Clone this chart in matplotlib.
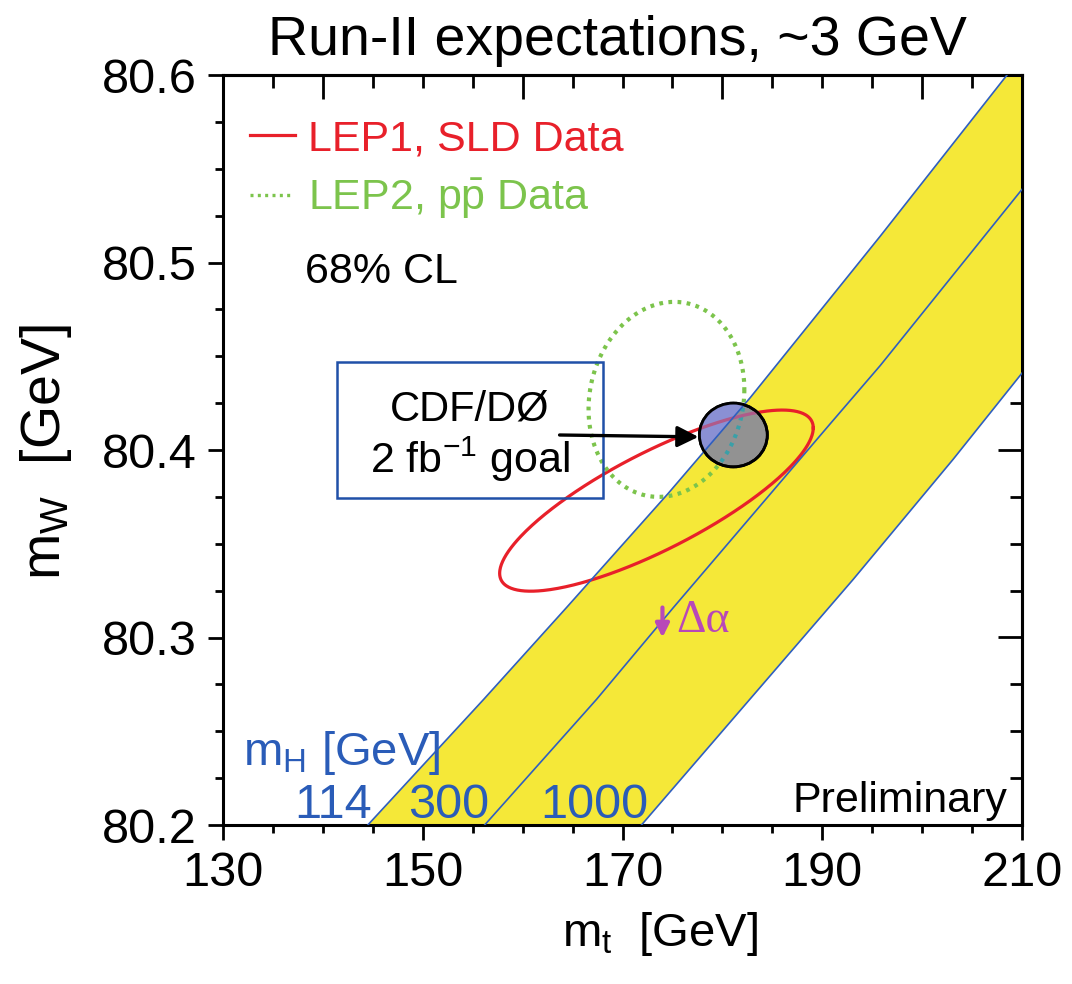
import matplotlib
matplotlib.use("Agg")
import matplotlib.pyplot as plt
import numpy as np
from matplotlib.patches import Ellipse, Rectangle
from matplotlib.ticker import MultipleLocator

plt.rcParams['font.family'] = ['Liberation Sans', 'DejaVu Sans']
plt.rcParams['mathtext.fontset'] = 'custom'
plt.rcParams['mathtext.rm'] = 'Liberation Sans'
plt.rcParams['mathtext.it'] = 'Liberation Sans:italic'
plt.rcParams['mathtext.bf'] = 'Liberation Sans:bold'

# m_H lines (m_t, m_W)
mh114_mt = [144.5, 156.1, 164.4, 174.6, 182.8, 195.8, 208.5]
mh114_mw = [80.200, 80.267, 80.316, 80.377, 80.428, 80.514, 80.600]
mh300_mt = [156.2, 167.4, 175.1, 190.8, 195.8, 210.0]
mh300_mw = [80.200, 80.267, 80.316, 80.414, 80.445, 80.539]
mh1000_mt = [171.9, 193.1, 203.1, 210.0]
mh1000_mw = [80.200, 80.331, 80.395, 80.441]
mh_labels = ['114', '300', '1000']
mh_label_mt = [141.0, 152.6, 167.2]

# 68% CL contours: centre, half-extent in m_t, half-extent in m_W, phase
lep1_c = (173.4, 80.373)
lep1_ax = (15.7, 0.0483)
lep1_phase = 0.64
lep2_c = (174.4, 80.427)
lep2_ax = (7.8, 0.052)
lep2_phase = 1.47

# Run-II goal
goal_c = (181.1, 80.408)
goal_r = (3.4, 0.0170)

yellow = '#f5e838'
blue = '#2f5fc0'
red = '#e8202a'
green = '#7cc44c'
dots = (0, (0.9, 1.3))

fig = plt.figure(figsize=(10.72, 9.84), dpi=100)
ax = fig.add_axes([223/1072, 1-825/984, 799/1072, 750/984])
ax.set_xlim(130, 210)
ax.set_ylim(80.2, 80.6)

# yellow band between 114 and 1000
band_x = mh114_mt + [210.0] + mh1000_mt[::-1]
band_y = mh114_mw + [80.6] + mh1000_mw[::-1]
ax.fill(band_x, band_y, color=yellow, lw=0, zorder=1)
for xs, ys in [(mh114_mt, mh114_mw), (mh300_mt, mh300_mw), (mh1000_mt, mh1000_mw)]:
    ax.plot(xs, ys, color=blue, lw=1.2, zorder=6)

t = np.linspace(0, 2*np.pi, 400)
lep1_x = lep1_c[0] + lep1_ax[0]*np.cos(t)
lep1_y = lep1_c[1] + lep1_ax[1]*np.cos(t + lep1_phase)
lep2_x = lep2_c[0] + lep2_ax[0]*np.cos(t)
lep2_y = lep2_c[1] + lep2_ax[1]*np.cos(t + lep2_phase)
ax.plot(lep1_x, lep1_y, color=red, lw=2.3, zorder=3)
ax.plot(lep2_x, lep2_y, color=green, lw=3.0, ls=dots, zorder=3)

# goal circle: grey, blue-ish outside the band
circ = Ellipse(goal_c, 2*goal_r[0], 2*goal_r[1], facecolor='#929292',
               edgecolor='black', lw=2.0, zorder=4)
ax.add_patch(circ)
clip = Ellipse(goal_c, 2*goal_r[0], 2*goal_r[1], facecolor='none', edgecolor='none')
ax.add_patch(clip)
outside = ax.fill(mh114_mt + [130, 130], mh114_mw + [80.6, 80.2],
                  color='#8a90d4', lw=0, zorder=4.5)[0]
outside.set_clip_path(clip)
g2, = ax.plot(lep2_x, lep2_y, color='#3aa0a8', lw=3.0, ls=dots, zorder=4.6)
g2.set_clip_path(clip)
r2, = ax.plot(lep1_x, lep1_y, color='#b05a8a', lw=2.3, zorder=4.6)
r2.set_clip_path(clip)
edge = Ellipse(goal_c, 2*goal_r[0], 2*goal_r[1], facecolor='none',
               edgecolor='black', lw=2.0, zorder=7)
ax.add_patch(edge)

# box and arrow
ax.add_patch(Rectangle((141.4, 80.3744), 26.6, 0.0726, facecolor='none',
                       edgecolor='#2050a8', lw=1.8, zorder=5))
ax.text(154.7, 80.416, 'CDF/DØ', fontsize=30, ha='center', va='baseline', zorder=8)
ax.text(154.7, 80.3876, r'2 fb$^{\mathregular{-1}}$ goal', fontsize=31, ha='center',
        va='baseline', zorder=8)
ax.annotate('', xy=(177.6, 80.407), xytext=(163.7, 80.408),
            arrowprops=dict(arrowstyle='-|>', color='black', lw=2.4,
                            mutation_scale=32, shrinkA=0, shrinkB=0), zorder=8)

# legend
ax.plot([132.7, 137.2], [80.568, 80.568], color=red, lw=2.3)
ax.text(138.5, 80.560, 'LEP1, SLD Data', color=red, fontsize=31, va='baseline')
ax.plot([132.7, 137.0], [80.536, 80.536], color=green, lw=2.4, ls=dots)
ax.text(138.5, 80.528, r'LEP2, p$\bar{\mathregular{p}}$ Data', color=green, fontsize=31,
        va='baseline')
ax.text(138.2, 80.489, '68% CL', color='black', fontsize=31, va='baseline')

# delta alpha
ax.annotate('', xy=(174.0, 80.300), xytext=(174.0, 80.316),
            arrowprops=dict(arrowstyle='-|>', color='#b848b8', lw=3.0,
                            mutation_scale=20, shrinkA=0, shrinkB=0), zorder=8)
ax.text(175.4, 80.303, 'Δα', color='#b848b8', fontsize=33, family='Liberation Serif',
        va='baseline', zorder=8)

# m_H labels
ax.text(132.0, 80.232, r'm$_{\mathregular{H}}$ [GeV]', color='#2a5cb8', fontsize=34,
        va='baseline', zorder=8)
for lab, xm in zip(mh_labels, mh_label_mt):
    ax.text(xm, 80.2037, lab, color='#2a5cb8', fontsize=35, ha='center',
            va='baseline', zorder=8)
ax.text(208.5, 80.2071, 'Preliminary', fontsize=31, ha='right', va='baseline', zorder=8)

# axes styling
for s in ax.spines.values():
    s.set_linewidth(2.2)
ax.xaxis.set_minor_locator(MultipleLocator(5))
ax.yaxis.set_minor_locator(MultipleLocator(0.025))
ax.set_xticks([130, 150, 170, 190, 210])
ax.set_xticklabels(['130', '150', '170', '190', '210'])
ax.set_yticks([80.2, 80.3, 80.4, 80.5, 80.6])
ax.set_yticklabels(['80.2', '80.3', '80.4', '80.5', '80.6'])
ax.tick_params(which='major', direction='out', length=11, width=2.0, labelsize=35, pad=8)
ax.tick_params(which='minor', direction='out', length=6, width=2.0)

top = ax.secondary_xaxis('top')
top.xaxis.set_major_locator(MultipleLocator(20))
top.xaxis.set_minor_locator(MultipleLocator(5))
top.tick_params(which='major', direction='in', length=17, width=2.0, labeltop=False)
top.tick_params(which='minor', direction='in', length=9, width=2.0)
right = ax.secondary_yaxis('right')
right.yaxis.set_major_locator(MultipleLocator(0.1))
right.yaxis.set_minor_locator(MultipleLocator(0.025))
right.tick_params(which='major', direction='in', length=17, width=2.0, labelright=False)
right.tick_params(which='minor', direction='in', length=9, width=2.0)
for sec in (top, right):
    for s in sec.spines.values():
        s.set_linewidth(2.2)

fig.text(617/1072, 1-55/984, 'Run-II expectations, ~3 GeV', fontsize=40, ha='center',
         va='baseline')
fig.text(660/1072, 1-934/984, r'm$_{\mathregular{t}}$  [GeV]', fontsize=34, ha='center',
         va='center')
fig.text(46/1072, 1-452/984, r'm$_{\mathregular{W}}$  [GeV]', fontsize=40, ha='center',
         va='center', rotation=90)

fig.savefig('out.png', dpi=100)
